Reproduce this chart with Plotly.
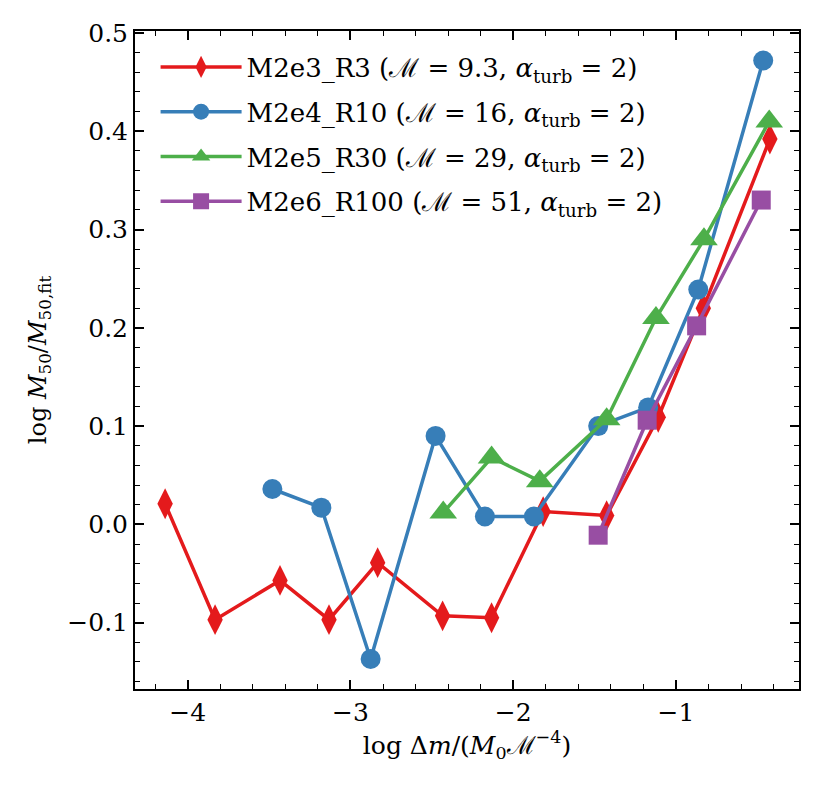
import plotly.graph_objects as go

# log dm/(M0 M^-4) and log M50/M50,fit
red_x = [-4.139, -3.832, -3.433, -3.132, -2.833, -2.434, -2.133, -1.816, -1.426, -1.109, -0.832, -0.423]
red_y = [0.021, -0.097, -0.057, -0.097, -0.039, -0.093, -0.095, 0.013, 0.009, 0.109, 0.220, 0.392]

blue_x = [-3.480, -3.179, -2.876, -2.477, -2.174, -1.873, -1.478, -1.171, -0.863, -0.464]
blue_y = [0.036, 0.017, -0.137, 0.090, 0.008, 0.008, 0.100, 0.119, 0.239, 0.472]

green_x = [-2.430, -2.133, -1.837, -1.426, -1.123, -0.828, -0.427]
green_y = [0.012, 0.068, 0.044, 0.107, 0.210, 0.290, 0.410]

purple_x = [-1.478, -1.177, -0.873, -0.476]
purple_y = [-0.011, 0.106, 0.202, 0.330]

names = [
    "M2e3_R3 (ℳ = 9.3, <i>α</i><sub>turb</sub> = 2)",
    "M2e4_R10 (ℳ = 16, <i>α</i><sub>turb</sub> = 2)",
    "M2e5_R30 (ℳ = 29, <i>α</i><sub>turb</sub> = 2)",
    "M2e6_R100 (ℳ = 51, <i>α</i><sub>turb</sub> = 2)",
]

series = [
    (red_x, red_y, "#e41a1c", "diamond-tall", 22),
    (blue_x, blue_y, "#377eb8", "circle", 20),
    (green_x, green_y, "#4daf4a", "triangle-up", 24),
    (purple_x, purple_y, "#984ea3", "square", 19),
]

SERIF = "DejaVu Serif"

fig = go.Figure()
for i, (xs, ys, col, sym, sz) in enumerate(series):
    fig.add_trace(go.Scatter(
        x=xs, y=ys, mode="lines+markers", name=names[i],
        legendgroup=str(i),
        line=dict(color=col, width=3.5),
        marker=dict(symbol=sym, size=sz, color=col, line=dict(width=0)),
    ))

axis_common = dict(
    showline=True, linecolor="black", linewidth=2, mirror="ticks",
    ticks="inside", ticklen=9, tickwidth=1.6, tickcolor="black",
    showgrid=False, zeroline=False,
    tickfont=dict(family=SERIF, size=25, color="black"),
)

fig.update_xaxes(
    range=[-4.324, -0.244], dtick=1, tick0=0,
    minor=dict(dtick=0.2, ticks="inside", ticklen=5, tickwidth=1.2, tickcolor="black"),
    title=dict(text="log Δ<i>m</i>/(<i>M</i><sub>0</sub>ℳ<sup>−4</sup>)",
               font=dict(family=SERIF, size=25, color="black"), standoff=8),
    **axis_common,
)
fig.update_yaxes(
    range=[-0.1675, 0.502], dtick=0.1, tick0=0, tickformat=".1f",
    minor=dict(dtick=0.02, ticks="inside", ticklen=5, tickwidth=1.2, tickcolor="black"),
    title=dict(text="log <i>M</i><sub>50</sub>/<i>M</i><sub>50,fit</sub>",
               font=dict(family=SERIF, size=24, color="black"), standoff=14),
    **axis_common,
)

fig.update_layout(
    width=822, height=791,
    margin=dict(l=127, r=31, t=23, b=110),
    plot_bgcolor="white", paper_bgcolor="white",
    font=dict(family=SERIF, color="black"),
    legend=dict(x=0.031, y=0.981, xanchor="left", yanchor="top",
                bgcolor="rgba(255,255,255,0)", borderwidth=0,
                font=dict(family=SERIF, size=26, color="black"),
                tracegroupgap=8, itemwidth=81),
    showlegend=True,
)

fig.write_html("out.html")
